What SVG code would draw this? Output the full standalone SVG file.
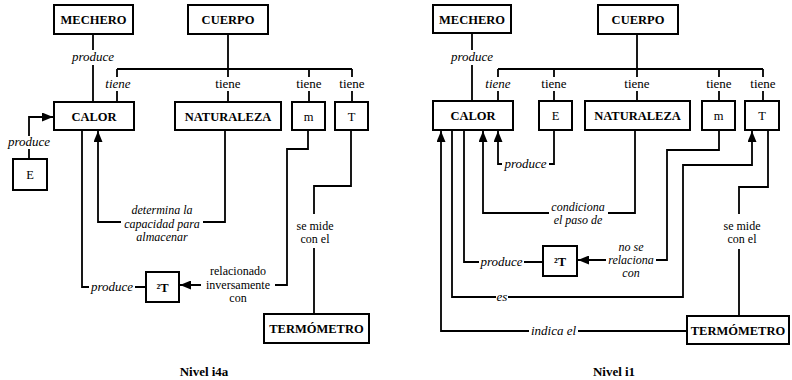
<svg xmlns="http://www.w3.org/2000/svg" width="792" height="380" viewBox="0 0 792 380" font-family="'Liberation Serif', 'Times New Roman', 'DejaVu Serif', serif">
<defs>
<style>
text{font-family:'Liberation Serif','Times New Roman','DejaVu Serif',serif;fill:#000}
.box{fill:#fff;stroke:#000;stroke-width:2}
.bl{font-weight:bold;font-size:12.5px;text-anchor:middle}
.rl{font-size:12.5px;text-anchor:middle}
.ln{fill:none;stroke:#000;stroke-width:1.8}
.lab{font-size:13px;text-anchor:middle}
.ml{font-size:12px;text-anchor:middle}
.it{font-style:italic}
.cap{font-weight:bold;font-size:13px;text-anchor:middle}
</style>
<marker id="ah" markerWidth="11" markerHeight="9" refX="11" refY="4.5" orient="auto" markerUnits="userSpaceOnUse"><path d="M0,0 L11,4.5 L0,9 z" fill="#000"/></marker>
</defs>
<rect width="792" height="380" fill="#fff"/>

<g id="connectors">
<!-- left diagram -->
<path class="ln" d="M93,34 V50 M93,65 V102"/>
<path class="ln" d="M228,34 V69 M117,69 H352 M117,69 V77 M117,91 V102 M228,69 V77 M228,91 V102 M309,69 V77 M309,91 V102 M352,69 V77 M352,91 V102"/>
<path class="ln" d="M29,159 V149 M29,136 V117 H53" marker-end="url(#ah)"/>
<path class="ln" d="M82,130 V287 H89 M135,287 H146"/>
<path class="ln" d="M225,130 V222 H203 M121,222 H98 V131" marker-end="url(#ah)"/>
<path class="ln" d="M308,130 V149 H287 V285 H275 M201,285 H180" marker-end="url(#ah)"/>
<path class="ln" d="M351,130 V186 H314 V214 M314,248 V314"/>
<!-- right diagram -->
<path class="ln" d="M472,33 V50 M472,65 V101"/>
<path class="ln" d="M637,34 V69 M498,69 H763 M498,69 V77 M498,91 V101 M554,69 V77 M554,91 V101 M637,69 V77 M637,91 V101 M719,69 V77 M719,91 V101 M763,69 V77 M763,91 V101"/>
<path class="ln" d="M554,130 V164 H549 M502,164 H498 V131" marker-end="url(#ah)"/>
<path class="ln" d="M635,130 V213 H608 M549,213 H483 V131" marker-end="url(#ah)"/>
<path class="ln" d="M464,130 V262 H479 M524,262 H543"/>
<path class="ln" d="M719,130 V150 H667 V260 H656 M606,260 H578" marker-end="url(#ah)"/>
<path class="ln" d="M452,130 V297 H496 M508,297 H683 V165 H752 V131" marker-end="url(#ah)"/>
<path class="ln" d="M688,331 H578 M529,331 H441 V131" marker-end="url(#ah)"/>
<path class="ln" d="M768,130 V187 H739 V214 M739,249 V316"/>

<!-- labels left -->
<text class="lab it" x="93" y="61">produce</text>
<text class="lab it" x="118" y="88">tiene</text>
<text class="lab" x="228" y="88">tiene</text>
<text class="lab" x="309" y="88">tiene</text>
<text class="lab" x="352" y="88">tiene</text>
<text class="lab it" x="29" y="146">produce</text>
<text class="lab it" x="112" y="291">produce</text>
<text class="ml it" x="162" y="214.2">determina la</text>
<text class="ml it" x="162" y="227.5">capacidad para</text>
<text class="ml it" x="162" y="240.8">almacenar</text>
<text class="ml" x="238" y="275.2">relacionado</text>
<text class="ml" x="238" y="288.5">inversamente</text>
<text class="ml" x="238" y="301.8">con</text>
<text class="ml" x="315" y="229.5">se mide</text>
<text class="ml" x="315" y="242.8">con el</text>
<!-- labels right -->
<text class="lab it" x="472" y="61">produce</text>
<text class="lab it" x="498" y="88">tiene</text>
<text class="lab" x="554" y="88">tiene</text>
<text class="lab" x="637" y="88">tiene</text>
<text class="lab" x="719" y="88">tiene</text>
<text class="lab" x="763" y="88">tiene</text>
<text class="lab it" x="525.5" y="168">produce</text>
<text class="ml it" x="578" y="210.5">condiciona</text>
<text class="ml it" x="578" y="223.8">el paso de</text>
<text class="lab it" x="501.5" y="266">produce</text>
<text class="ml it" x="631" y="250.7">no se</text>
<text class="ml it" x="631" y="264">relaciona</text>
<text class="ml it" x="631" y="277.3">con</text>
<text class="lab it" x="502" y="301">es</text>
<text class="lab it" x="553.5" y="335">indica el</text>
<text class="ml" x="742" y="229.5">se mide</text>
<text class="ml" x="742" y="242.8">con el</text>
</g>

<!-- left nodes -->
<g id="l-mechero"><rect class="box" x="54" y="5" width="79" height="29"/><text class="bl" x="93.5" y="24">MECHERO</text></g>
<g id="l-cuerpo"><rect class="box" x="188" y="5" width="80" height="29"/><text class="bl" x="228" y="24">CUERPO</text></g>
<g id="l-calor"><rect class="box" x="54" y="102" width="80" height="28"/><text class="bl" x="94" y="120.5">CALOR</text></g>
<g id="l-naturaleza"><rect class="box" x="175" y="102" width="106" height="28"/><text class="bl" x="228" y="120.5">NATURALEZA</text></g>
<g id="l-m"><rect class="box" x="292" y="102" width="33" height="28"/><text class="rl" x="308.5" y="120.5">m</text></g>
<g id="l-t"><rect class="box" x="335" y="102" width="33" height="28"/><text class="rl" x="351.5" y="120.5">T</text></g>
<g id="l-e"><rect class="box" x="13" y="159" width="34" height="31"/><text class="rl" x="30" y="179">E</text></g>
<g id="l-2t"><rect class="box" x="146" y="272" width="33" height="30"/><text class="bl" x="162.5" y="291.5">²T</text></g>
<g id="l-termometro"><rect class="box" x="264" y="314" width="105" height="29"/><text class="bl" x="316.5" y="333">TERMÓMETRO</text></g>

<!-- right nodes -->
<g id="r-mechero"><rect class="box" x="433" y="5" width="78" height="28"/><text class="bl" x="472" y="23.5">MECHERO</text></g>
<g id="r-cuerpo"><rect class="box" x="598" y="5" width="80" height="29"/><text class="bl" x="638" y="24">CUERPO</text></g>
<g id="r-calor"><rect class="box" x="433" y="101" width="80" height="29"/><text class="bl" x="473" y="120">CALOR</text></g>
<g id="r-e"><rect class="box" x="539" y="101" width="33" height="29"/><text class="rl" x="555.5" y="120">E</text></g>
<g id="r-naturaleza"><rect class="box" x="585" y="101" width="105" height="29"/><text class="bl" x="637.5" y="120">NATURALEZA</text></g>
<g id="r-m"><rect class="box" x="702" y="101" width="33" height="29"/><text class="rl" x="718.5" y="120">m</text></g>
<g id="r-t"><rect class="box" x="745" y="101" width="34" height="29"/><text class="rl" x="762" y="120">T</text></g>
<g id="r-2t"><rect class="box" x="543" y="246" width="34" height="30"/><text class="bl" x="560" y="265.5">²T</text></g>
<g id="r-termometro"><rect class="box" x="687" y="316" width="102" height="28"/><text class="bl" x="738" y="334.5">TERMÓMETRO</text></g>

<text class="cap" x="204" y="376">Nivel i4a</text>
<text class="cap" x="614" y="376">Nivel i1</text>
</svg>
